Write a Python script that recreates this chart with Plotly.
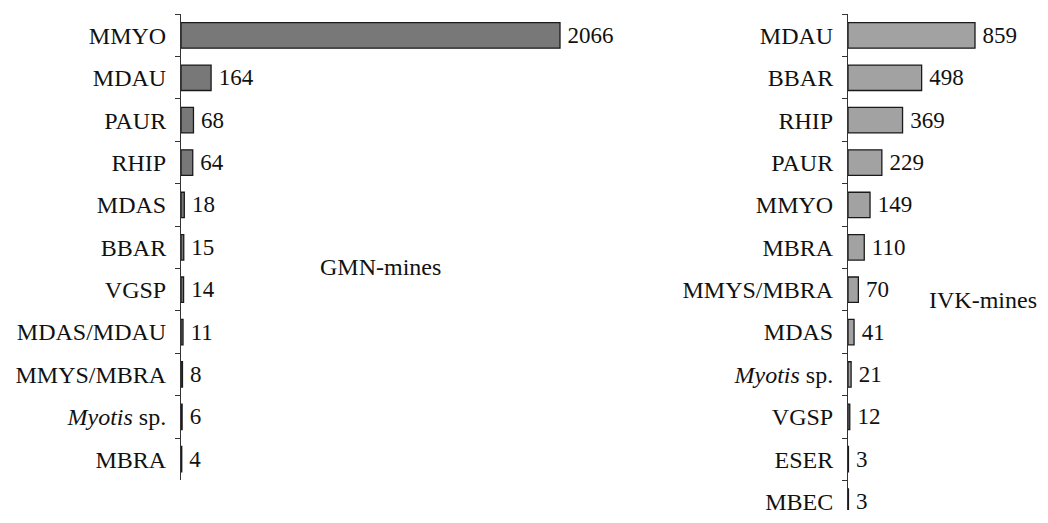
import plotly.graph_objects as go

gmn_species = ["MMYO", "MDAU", "PAUR", "RHIP", "MDAS", "BBAR", "VGSP",
               "MDAS/MDAU", "MMYS/MBRA", "Myotis sp.", "MBRA"]
gmn_counts = [2066, 164, 68, 64, 18, 15, 14, 11, 8, 6, 4]

ivk_species = ["MDAU", "BBAR", "RHIP", "PAUR", "MMYO", "MBRA", "MMYS/MBRA",
               "MDAS", "Myotis sp.", "VGSP", "ESER", "MBEC"]
ivk_counts = [859, 498, 369, 229, 149, 110, 70, 41, 21, 12, 3, 3]

def tick_text(names):
    return ["<i>Myotis</i> sp." if n == "Myotis sp." else n for n in names]

FONT = "Liberation Serif, Times New Roman, serif"
FS_LAB = 24
FS_NUM = 23

# page has the default 8px body margin on every side
OFF = 8
PAGE_W, PAGE_H = 1048, 523
W, H = PAGE_W - 2 * OFF, PAGE_H - 2 * OFF

def px(x):  # page x -> paper fraction
    return (x - OFF) / W

def py(y):  # page y -> paper fraction (from bottom)
    return 1 - (y - OFF) / H

fig = go.Figure()
fig.add_trace(go.Bar(
    x=gmn_counts, y=gmn_species, orientation="h", width=0.6,
    marker=dict(color="#787878", line=dict(color="#1a1a1a", width=1.3)),
    text=gmn_counts, texttemplate="\u2009%{text}", textposition="outside",
    cliponaxis=False, constraintext="none",
    textfont=dict(family=FONT, size=FS_NUM, color="#111"),
    xaxis="x", yaxis="y", showlegend=False,
))
fig.add_trace(go.Bar(
    x=ivk_counts, y=ivk_species, orientation="h", width=0.6,
    marker=dict(color="#a2a2a2", line=dict(color="#1a1a1a", width=1.3)),
    text=ivk_counts, texttemplate="\u2009%{text}", textposition="outside",
    cliponaxis=False, constraintext="none",
    textfont=dict(family=FONT, size=FS_NUM, color="#111"),
    xaxis="x2", yaxis="y2", showlegend=False,
))

# pixel geometry (page pixels)
lx0, lx_end_px = 181, 560        # left axis, end of 2066 bar
rx0, rx_end_px = 848, 975        # right axis, end of 859 bar
l_scale = (lx_end_px - lx0) / 2066
r_scale = (rx_end_px - rx0) / 859
l_dom_right = 660
r_dom_right = 1036
cat_px = 42.8
top_px = 14.3
bottom_px = OFF + H

yaxis_common = dict(
    type="category", tickson="boundaries", ticks="outside", ticklen=5,
    tickcolor="#333", tickwidth=1, showline=True, linecolor="#333",
    linewidth=1, showgrid=False, zeroline=False,
    tickfont=dict(family=FONT, size=FS_LAB, color="#111"),
    ticklabelstandoff=9, fixedrange=True,
)

n_l = len(gmn_species)
l_bottom_px = top_px + n_l * cat_px
r_span = (bottom_px - top_px) / cat_px

fig.update_layout(
    width=W, height=H, margin=dict(l=0, r=0, t=0, b=0),
    paper_bgcolor="white", plot_bgcolor="white",
    bargap=0.4,
    xaxis=dict(domain=[px(lx0), px(l_dom_right)],
               range=[0, (l_dom_right - lx0) / l_scale], visible=False),
    yaxis=dict(domain=[py(l_bottom_px), py(top_px)],
               range=[n_l - 0.5, -0.5],
               categoryorder="array", categoryarray=gmn_species,
               tickmode="array", tickvals=gmn_species,
               ticktext=tick_text(gmn_species), anchor="x", **yaxis_common),
    xaxis2=dict(domain=[px(rx0), px(r_dom_right)],
                range=[0, (r_dom_right - rx0) / r_scale], visible=False,
                anchor="y2"),
    yaxis2=dict(domain=[0, py(top_px)],
                range=[r_span - 0.5, -0.5],
                categoryorder="array", categoryarray=ivk_species,
                tickmode="array", tickvals=ivk_species,
                ticktext=tick_text(ivk_species), anchor="x2", **yaxis_common),
    annotations=[
        dict(text="GMN-mines", x=px(380), y=py(270), xref="paper",
             yref="paper", xanchor="center", yanchor="middle",
             showarrow=False,
             font=dict(family=FONT, size=FS_LAB, color="#111")),
        dict(text="IVK-mines", x=px(1039), y=py(303), xref="paper",
             yref="paper", xanchor="right", yanchor="middle",
             showarrow=False,
             font=dict(family=FONT, size=FS_LAB, color="#111")),
    ],
)

fig.write_html("out.html")
